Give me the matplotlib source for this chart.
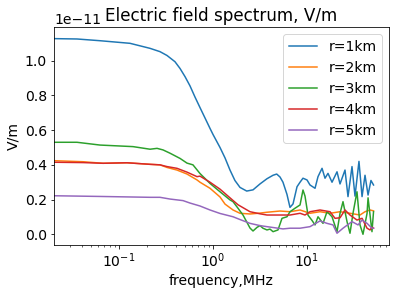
import matplotlib
matplotlib.use("Agg")
import matplotlib.pyplot as plt

plt.rcParams['font.size'] = 14

# frequencies (MHz) and amplitudes (units of 1e-11 V/m)
f1 = [0.0204, 0.0357, 0.0628, 0.131, 0.214, 0.273, 0.324, 0.394, 0.446, 0.504, 0.569, 0.644, 0.727, 0.822,
      0.929, 1.0, 1.187, 1.342, 1.516, 1.71, 1.937, 2.283, 2.665, 3.16, 3.75, 4.35, 4.76, 5.16, 5.55, 6.12,
      6.59, 7.10, 7.83, 8.43, 9.06, 10.0, 10.76, 12.17, 13.09, 14.45, 15.54, 16.72, 18.45, 20.85, 22.44,
      25.36, 27.29, 30.1, 32.4, 35.7, 38.5, 41.4, 44.6, 47.9, 51.0]
v1 = [1.127, 1.125, 1.115, 1.10, 1.071, 1.052, 1.03, 0.994, 0.955, 0.908, 0.855, 0.79, 0.73, 0.67,
      0.61, 0.575, 0.50, 0.44, 0.37, 0.31, 0.27, 0.249, 0.256, 0.29, 0.32, 0.34, 0.347, 0.33, 0.30, 0.23,
      0.155, 0.175, 0.274, 0.30, 0.323, 0.313, 0.284, 0.265, 0.332, 0.38, 0.323, 0.351, 0.30, 0.36, 0.29,
      0.37, 0.217, 0.39, 0.22, 0.42, 0.217, 0.34, 0.226, 0.31, 0.284]

f2 = [0.0204, 0.0414, 0.0676, 0.1216, 0.214, 0.273, 0.324, 0.414, 0.529, 0.676, 0.727, 0.929, 1.187,
      1.342, 1.633, 1.937, 2.475, 3.16, 3.75, 5.16, 6.59, 8.43, 10.76, 13.75, 17.57, 22.44, 28.66, 36.6,
      41.4, 46.8, 51.0]
v2 = [0.424, 0.418, 0.409, 0.412, 0.403, 0.40, 0.385, 0.37, 0.347, 0.313, 0.30, 0.265, 0.215,
      0.174, 0.14, 0.121, 0.117, 0.122, 0.127, 0.134, 0.13, 0.14, 0.121, 0.13, 0.121, 0.13, 0.121, 0.111,
      0.13, 0.14, 0.135]

f3 = [0.0204, 0.0357, 0.0628, 0.141, 0.214, 0.254, 0.294, 0.349, 0.446, 0.529, 0.612, 0.727, 0.929,
      1.187, 1.516, 1.633, 1.845, 2.085, 2.475, 2.665, 2.94, 3.16, 3.40, 3.75, 4.04, 4.35, 4.91, 5.42,
      6.12, 6.59, 7.45, 8.43, 9.06, 9.52, 10.25, 11.3, 12.17, 13.09, 14.80, 16.32, 18.45, 20.85, 22.44,
      24.15, 26.64, 28.66, 30.85, 34.0, 36.6, 39.4, 43.5, 44.6, 49.1, 51.0]
v3 = [0.53, 0.53, 0.514, 0.505, 0.49, 0.495, 0.486, 0.467, 0.437, 0.41, 0.40, 0.35, 0.293,
      0.245, 0.198, 0.188, 0.15, 0.111, 0.036, 0.019, 0.04, 0.05, 0.035, 0.025, 0.03, 0.015, 0.025, 0.092,
      0.101, 0.13, 0.15, 0.169, 0.255, 0.22, 0.11, 0.08, 0.054, 0.101, 0.063, 0.13, 0.101, 0.015, 0.12,
      0.188, 0.073, 0.006, 0.121, 0.245, 0.054, 0.0, 0.12, 0.21, 0.015, 0.13]

f4 = [0.0204, 0.0414, 0.0676, 0.1216, 0.214, 0.273, 0.324, 0.414, 0.529, 0.676, 0.727, 0.929, 1.187,
      1.516, 1.845, 2.475, 3.16, 3.75, 5.55, 6.59, 8.43, 9.52, 10.76, 13.75, 17.57, 19.85, 22.44, 25.36,
      28.66, 34.0, 38.5, 43.5, 46.8, 49.1, 51.0]
v4 = [0.415, 0.413, 0.409, 0.412, 0.403, 0.40, 0.39, 0.38, 0.358, 0.332, 0.335, 0.30, 0.26,
      0.21, 0.17, 0.13, 0.118, 0.111, 0.111, 0.111, 0.121, 0.111, 0.13, 0.14, 0.13, 0.092, 0.095, 0.14,
      0.111, 0.082, 0.092, 0.035, 0.025, 0.04, 0.035]

f5 = [0.0204, 0.0628, 0.214, 0.273, 0.349, 0.480, 0.569, 0.727, 0.929, 1.187, 1.633, 1.937, 2.475,
      3.16, 3.75, 5.55, 6.59, 8.43, 10.76, 13.75, 16.32, 18.90, 20.85, 24.15, 30.1, 34.9, 38.5, 43.5,
      49.1, 51.0]
v5 = [0.222, 0.218, 0.213, 0.213, 0.203, 0.194, 0.18, 0.163, 0.14, 0.12, 0.101, 0.085, 0.063,
      0.05, 0.044, 0.031, 0.035, 0.035, 0.044, 0.077, 0.063, 0.054, 0.006, 0.035, 0.073, 0.054, 0.082,
      0.063, 0.035, 0.035]

labels = ["r=1km", "r=2km", "r=3km", "r=4km", "r=5km"]
scale = 1e-11

fig = plt.figure(figsize=(396 / 72, 295 / 72), dpi=72)
ax = fig.add_axes([54 / 396, 1 - 244.5 / 295, 335 / 396, 217.5 / 295])

for f, v, lab in zip([f1, f2, f3, f4, f5], [v1, v2, v3, v4, v5], labels):
    ax.plot(f, [x * scale for x in v], label=lab)

ax.set_xscale('log')
ax.set_xlim(0.02035, 74.5)
ax.set_ylim(-0.0588e-11, 1.194e-11)
ax.set_xlabel("frequency,MHz")
ax.set_ylabel("V/m")
ax.set_title("Electric field spectrum, V/m")
ax.legend(loc='upper right')

fig.savefig("out.png", dpi=72)
